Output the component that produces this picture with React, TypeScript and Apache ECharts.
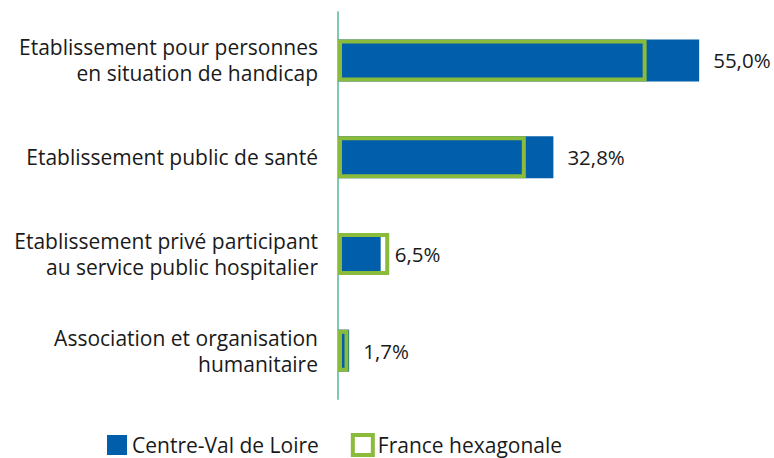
import React, { useEffect, useRef } from "react";
import * as echarts from "echarts";

const categories = [
  "Etablissement pour personnes\nen situation de handicap",
  "Etablissement public de santé",
  "Etablissement privé participant\nau service public hospitalier",
  "Association et organisation\nhumanitaire",
];
const centreValDeLoire = [55.0, 32.8, 6.5, 1.7];
const franceHexagonale = [47.0, 28.6, 7.8, 1.6];
const seriesNames = ["Centre-Val de Loire", "France hexagonale"];

const BLUE = "#005EAA";
const GREEN = "#8BBB3B";
const FONT = "Open Sans";

export default function App() {
  const ref = useRef<HTMLDivElement>(null);
  useEffect(() => {
    document.body.style.margin = "0";
    const chart = echarts.init(ref.current!, null, { renderer: "svg" });
    chart.setOption({
      animation: false,
      backgroundColor: "#ffffff",
      textStyle: { fontFamily: FONT },
      grid: { left: 338, right: 42, top: 12, height: 387, containLabel: false },
      legend: {
        left: 107,
        top: 433,
        padding: 0,
        itemWidth: 20,
        itemHeight: 20,
        itemGap: 32,
        textStyle: { fontSize: 21, color: "#1a1a1a", fontFamily: FONT, lineHeight: 20 },
        data: [
          { name: seriesNames[0], icon: "rect", itemStyle: { color: BLUE, borderWidth: 0 } },
          { name: seriesNames[1], icon: "rect", itemStyle: { color: "#ffffff", borderColor: GREEN, borderWidth: 4 } },
        ],
      },
      xAxis: {
        type: "value",
        min: 0,
        max: 60,
        show: false,
        splitLine: { show: false },
      },
      yAxis: {
        type: "category",
        inverse: true,
        data: categories,
        axisLine: { show: true, lineStyle: { color: "#7ECBB4", width: 2 } },
        axisTick: { show: false },
        axisLabel: {
          fontSize: 21,
          color: "#1a1a1a",
          fontFamily: FONT,
          lineHeight: 26,
          margin: 20,
          align: "right",
        },
      },
      series: [
        {
          name: seriesNames[0],
          type: "bar",
          data: centreValDeLoire,
          barWidth: 42,
          barGap: "-100%",
          itemStyle: { color: BLUE },
          label: {
            show: true,
            position: "right",
            distance: 14,
            fontSize: 20.5,
            color: "#1a1a1a",
            fontFamily: FONT,
            formatter: (p: any) => p.value.toFixed(1).replace(".", ",") + "%",
          },
          z: 2,
        },
        {
          name: seriesNames[1],
          type: "bar",
          data: franceHexagonale,
          barWidth: 42,
          barGap: "-100%",
          itemStyle: { color: "rgba(255,255,255,0)", borderColor: GREEN, borderWidth: 4 },
          z: 3,
        },
      ],
    });
    return () => chart.dispose();
  }, []);
  return <div ref={ref} style={{ width: 774, height: 458 }} />;
}
